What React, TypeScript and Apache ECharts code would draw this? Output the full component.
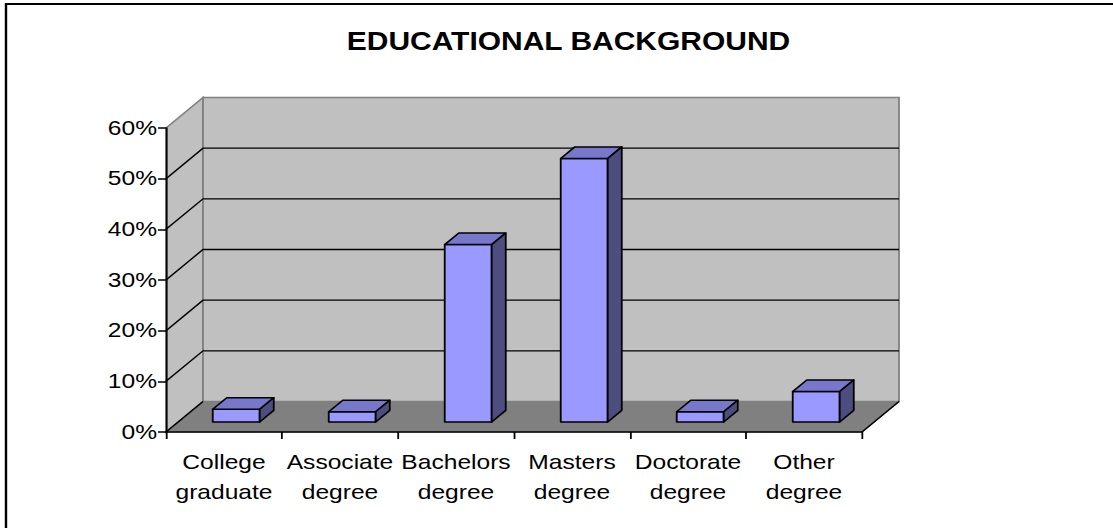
import { useEffect, useRef } from "react";
import * as echarts from "echarts";

// ---- data ----
const categories = [
  "College\ngraduate",
  "Associate\ndegree",
  "Bachelors\ndegree",
  "Masters\ndegree",
  "Doctorate\ndegree",
  "Other\ndegree",
];
const shares = [2.5, 2, 35, 52, 2, 6];
const yTicks = [0, 10, 20, 30, 40, 50, 60];
const titleText = "EDUCATIONAL BACKGROUND";

// ---- layout ----
const PAGE_W = 1113;
const PAGE_H = 528;
const INNER_W = 928;
const SX = PAGE_W / INNER_W;
const DEPTH_X = 37 / SX;
const DEPTH_Y = -30.5;
const BAR_F0 = 0.33;
const BAR_F1 = 0.71;
const BAR_W = 0.405;
const FONT = "'Liberation Sans', Arial, sans-serif";

export default function App() {
  const ref = useRef<HTMLDivElement>(null);

  useEffect(() => {
    if (!ref.current) return;
    const chart = echarts.init(ref.current, null, { renderer: "svg" });
    const yMin = yTicks[0];
    const yMax = yTicks[yTicks.length - 1];
    const P = (x: number, y: number, f: number) => [x + f * DEPTH_X, y + f * DEPTH_Y];

    const option: any = {
      animation: false,
      backgroundColor: "#ffffff",
      title: {
        text: titleText,
        left: 469,
        textAlign: "center",
        top: 24,
        textStyle: { fontSize: 25, fontWeight: "bold", fontFamily: FONT, color: "#000" },
      },
      graphic: [
        {
          type: "rect",
          silent: true,
          shape: { x: 5, y: 4, width: 3000, height: 3000 },
          style: { fill: "none", stroke: "#000", lineWidth: 2 },
        },
      ],
      grid: { left: 166 / SX, right: INNER_W - 862 / SX, top: 128, bottom: PAGE_H - 432 },
      xAxis: {
        type: "category",
        data: categories,
        z: 10,
        boundaryGap: true,
        axisLine: { show: true, lineStyle: { color: "#000", width: 1.5 } },
        axisTick: { show: true, length: 7, lineStyle: { color: "#000", width: 1.5 } },
        axisLabel: {
          interval: 0,
          margin: 15,
          fontSize: 20.5,
          lineHeight: 30,
          color: "#000",
          fontFamily: FONT,
        },
        splitLine: { show: false },
      },
      yAxis: {
        type: "value",
        min: yMin,
        max: yMax,
        interval: 10,
        z: 10,
        axisLine: { show: true, lineStyle: { color: "#000", width: 1.5 } },
        axisTick: { show: true, length: 6.7, lineStyle: { color: "#000", width: 1.5 } },
        axisLabel: {
          formatter: "{value}%",
          margin: 7.5,
          fontSize: 20.5,
          color: "#000",
          fontFamily: FONT,
        },
        splitLine: { show: false },
      },
      series: [
        {
          type: "custom",
          name: "walls",
          z: 1,
          silent: true,
          clip: false,
          data: [[0, 0]],
          encode: { x: 0, y: 1 },
          renderItem: (_params: any, api: any) => {
            const bw = api.size([1, 0])[0];
            const n = categories.length;
            const c0 = api.coord([0, yMin]);
            const cTop = api.coord([0, yMax]);
            const L = c0[0] - bw / 2;
            const R = L + bw * n;
            const y0 = c0[1];
            const y1 = cTop[1];
            const children: any[] = [];
            children.push({
              type: "polygon",
              shape: { points: [[L, y0], P(L, y0, 1), P(L, y1, 1), [L, y1]] },
              style: { fill: "#C0C0C0", stroke: "#808080", lineWidth: 1.5 },
            });
            children.push({
              type: "polygon",
              shape: { points: [P(L, y0, 1), P(R, y0, 1), P(R, y1, 1), P(L, y1, 1)] },
              style: { fill: "#C0C0C0", stroke: "#808080", lineWidth: 1.5 },
            });
            children.push({
              type: "polygon",
              shape: { points: [[L, y0], [R, y0], P(R, y0, 1), P(L, y0, 1)] },
              style: { fill: "#808080", stroke: "#808080", lineWidth: 1 },
            });
            children.push({
              type: "line",
              shape: { x1: L, y1: y0, x2: L + DEPTH_X, y2: y0 + DEPTH_Y },
              style: { stroke: "#000", lineWidth: 1.3 },
            });
            children.push({
              type: "line",
              shape: { x1: R, y1: y0, x2: R + DEPTH_X, y2: y0 + DEPTH_Y },
              style: { stroke: "#000", lineWidth: 1.3 },
            });
            yTicks.forEach((v) => {
              if (v <= yMin || v >= yMax) return;
              const y = api.coord([0, v])[1];
              children.push({
                type: "polyline",
                shape: { points: [[L, y], P(L, y, 1), P(R, y, 1)] },
                style: { stroke: "#000", lineWidth: 1.3, fill: "none" },
              });
            });
            return { type: "group", children };
          },
        },
        {
          type: "custom",
          name: "Share",
          z: 3,
          clip: false,
          data: shares.map((v, i) => [i, v]),
          encode: { x: 0, y: 1 },
          renderItem: (_params: any, api: any) => {
            const idx = api.value(0);
            const v = api.value(1);
            const base = api.coord([idx, 0]);
            const top = api.coord([idx, v]);
            const w = api.size([1, 0])[0] * BAR_W;
            const xl = base[0] - w / 2;
            const xr = base[0] + w / 2;
            const yb = base[1];
            const yt = top[1];
            const stroke = { stroke: "#000", lineWidth: 1.5, lineJoin: "round" };
            return {
              type: "group",
              children: [
                {
                  type: "polygon",
                  shape: { points: [P(xl, yb, BAR_F0), P(xr, yb, BAR_F0), P(xr, yt, BAR_F0), P(xl, yt, BAR_F0)] },
                  style: { fill: "#9999FF", ...stroke },
                },
                {
                  type: "polygon",
                  shape: { points: [P(xl, yt, BAR_F0), P(xr, yt, BAR_F0), P(xr, yt, BAR_F1), P(xl, yt, BAR_F1)] },
                  style: { fill: "#7777CC", ...stroke },
                },
                {
                  type: "polygon",
                  shape: { points: [P(xr, yb, BAR_F0), P(xr, yt, BAR_F0), P(xr, yt, BAR_F1), P(xr, yb, BAR_F1)] },
                  style: { fill: "#4D4D80", ...stroke },
                },
              ],
            };
          },
        },
      ],
    };
    chart.setOption(option);
    return () => chart.dispose();
  }, []);

  return (
    <div
      style={{
        position: "fixed",
        left: 0,
        top: 0,
        width: PAGE_W,
        height: PAGE_H,
        overflow: "hidden",
        background: "#fff",
      }}
    >
      <div
        ref={ref}
        style={{
          width: INNER_W,
          height: PAGE_H,
          transform: `scaleX(${SX})`,
          transformOrigin: "0 0",
        }}
      />
    </div>
  );
}
